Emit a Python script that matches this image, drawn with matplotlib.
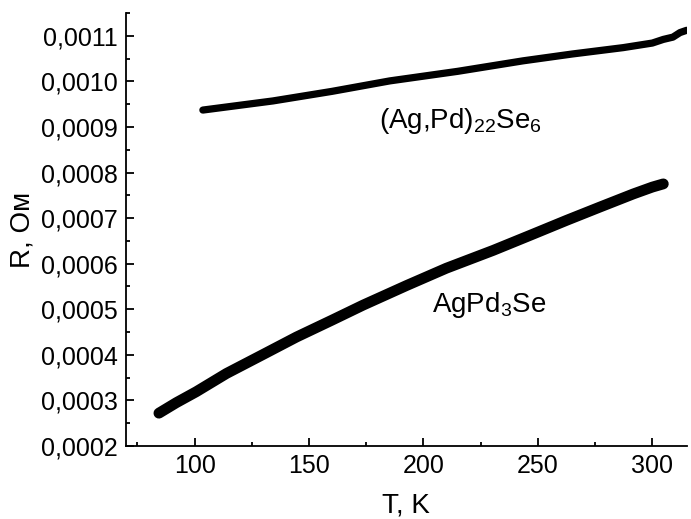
import matplotlib
matplotlib.use("Agg")
import matplotlib.pyplot as plt
from matplotlib.ticker import MultipleLocator, FuncFormatter

plt.rcParams['font.family'] = ['Liberation Sans', 'DejaVu Sans']
plt.rcParams['mathtext.fontset'] = 'custom'
plt.rcParams['mathtext.rm'] = 'Liberation Sans'
plt.rcParams['mathtext.it'] = 'Liberation Sans'
plt.rcParams['mathtext.bf'] = 'Liberation Sans'

# Resistance vs temperature, (Ag,Pd)22Se6
t_agpdse6 = [103.6, 134.2, 160.0, 185.3, 215.0, 243.5, 265.0, 287.3, 300.0, 304.8, 309.0, 312.1, 315.0]
r_agpdse6 = [0.000937, 0.000957, 0.000978, 0.001001, 0.001022, 0.001045, 0.001060,
             0.001074, 0.001084, 0.001092, 0.001097, 0.001107, 0.001112]

# Resistance vs temperature, AgPd3Se
t_agpd3se = [84.4, 92.0, 100.7, 113.9, 130.0, 144.5, 160.0, 173.6, 192.6, 210.0, 230.4,
             247.0, 262.5, 277.0, 291.7, 300.0, 304.8]
r_agpd3se = [0.000272, 0.000295, 0.000319, 0.000359, 0.000401, 0.000439, 0.000476,
             0.000509, 0.000552, 0.000590, 0.000629, 0.000663, 0.000695, 0.000724,
             0.000753, 0.000768, 0.000775]

x_ticks = [100, 150, 200, 250, 300]
y_ticks = [0.0002, 0.0003, 0.0004, 0.0005, 0.0006, 0.0007, 0.0008, 0.0009, 0.0010, 0.0011]

fig = plt.figure(figsize=(6.91, 5.19), dpi=100)
ax = fig.add_axes([0.1823, 0.1407, 0.8114, 0.8343])

ax.plot(t_agpdse6, r_agpdse6, color='black', lw=5.2, solid_capstyle='round', solid_joinstyle='round')
ax.plot(t_agpd3se, r_agpd3se, color='black', lw=7.8, solid_capstyle='round', solid_joinstyle='round')

ax.set_xlim(70, 315)
ax.set_ylim(0.0002, 0.00115)
ax.set_xticks(x_ticks)
ax.set_yticks(y_ticks)
ax.xaxis.set_minor_locator(MultipleLocator(25))
ax.yaxis.set_minor_locator(MultipleLocator(0.00005))
ax.yaxis.set_major_formatter(FuncFormatter(lambda v, p: f"{v:.4f}".replace('.', ',')))

for s in ['top', 'right']:
    ax.spines[s].set_visible(False)
for s in ['left', 'bottom']:
    ax.spines[s].set_linewidth(1.3)

ax.tick_params(which='major', direction='in', length=6, width=1.3, labelsize=18, pad=6)
ax.tick_params(which='minor', direction='in', length=3, width=1.3)

ax.set_xlabel('T, K', fontsize=20, labelpad=10)
ax.set_ylabel('R, Ом', fontsize=20, labelpad=3.5)

ax.text(180.5, 0.000898, r'(Ag,Pd)$_{22}$Se$_6$', fontsize=20, ha='left', va='baseline')
ax.text(203.6, 0.000493, r'AgPd$_3$Se', fontsize=20, ha='left', va='baseline')

fig.savefig('out.png', dpi=100)
